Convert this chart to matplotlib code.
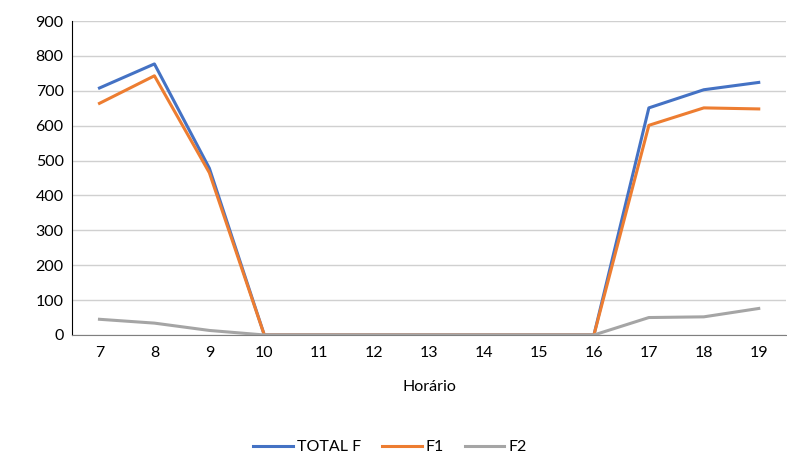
import matplotlib.pyplot as plt

hours = [7, 8, 9, 10, 11, 12, 13, 14, 15, 16, 17, 18, 19]
total_f = [708, 777, 478, 0, 0, 0, 0, 0, 0, 0, 651, 703, 724]
f1 = [664, 743, 465, 0, 0, 0, 0, 0, 0, 0, 601, 651, 648]
f2 = [45, 34, 13, 0, 0, 0, 0, 0, 0, 0, 50, 52, 76]

plt.rcParams['font.family'] = ['Lato', 'DejaVu Sans']

fig = plt.figure(figsize=[7.87, 4.57], dpi=100)
ax = fig.add_axes([0.0915, 0.267, 0.9075, 0.687])

x = list(range(len(hours)))
ax.plot(x, total_f, color='#4472C4', lw=2.2, label='TOTAL F', zorder=3)
ax.plot(x, f1, color='#ED7D31', lw=2.2, label='F1', zorder=4)
ax.plot(x, f2, color='#A5A5A5', lw=2.2, label='F2', zorder=5)

ax.set_xlim(-0.5, len(hours) - 0.5)
ax.set_ylim(0, 900)
ax.set_yticks(range(0, 901, 100))
ax.set_xticks(x)
ax.set_xticklabels([str(h) for h in hours])
ax.grid(axis='y', color='#D0D0D0', lw=1)
ax.set_axisbelow(True)

for s in ['top', 'right']:
    ax.spines[s].set_visible(False)
ax.spines['left'].set_color('black')
ax.spines['bottom'].set_color('#7F7F7F')
ax.tick_params(length=0, labelsize=11.5, colors='black', pad=8)
ax.tick_params(axis='y', pad=6)

ax.set_xlabel('Horário', fontsize=11.5, labelpad=14)
ax.legend(loc='lower center', bbox_to_anchor=(0.445, -0.415), ncol=3, frameon=False,
          fontsize=11.5, handlelength=2.5, columnspacing=1.3, handletextpad=0.25,
          borderpad=0.2)

fig.savefig('out.png', dpi=100)
